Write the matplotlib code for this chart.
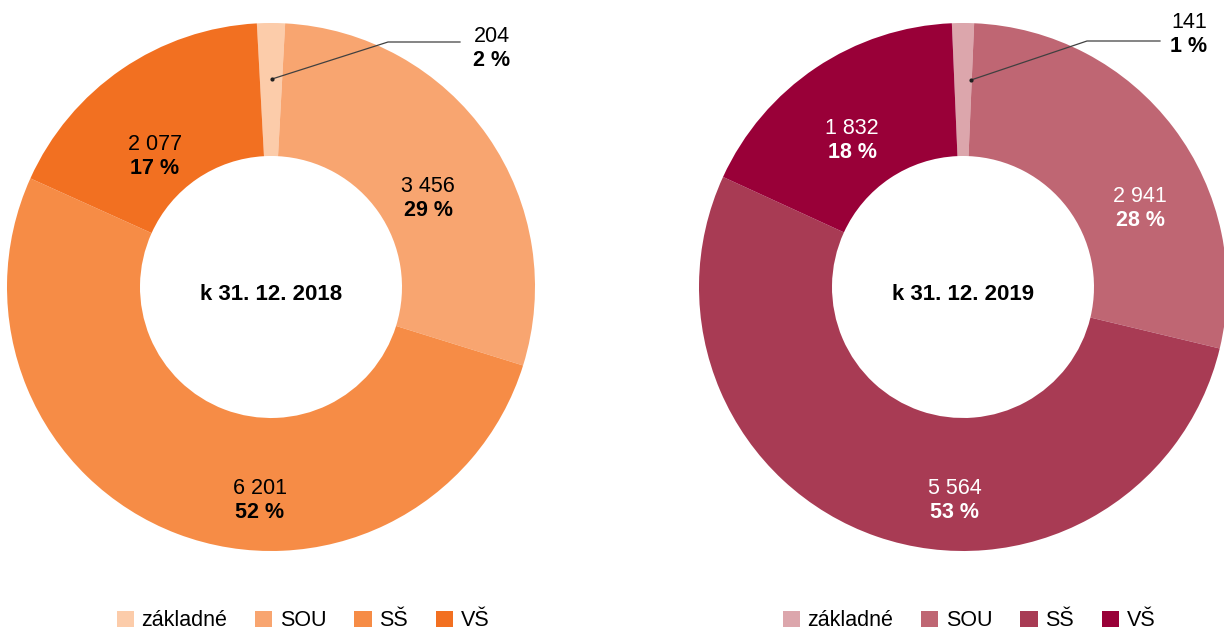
import matplotlib
matplotlib.use("Agg")
import matplotlib.pyplot as plt
from matplotlib.patches import Patch

categories = ["základné", "SOU", "SŠ", "VŠ"]
values_2018 = [204, 3456, 6201, 2077]
values_2019 = [141, 2941, 5564, 1832]
pct_2018 = ["2 %", "29 %", "52 %", "17 %"]
pct_2019 = ["1 %", "28 %", "53 %", "18 %"]
titles = ["k 31. 12. 2018", "k 31. 12. 2019"]

colors_2018 = ["#FCCCAA", "#F8A570", "#F68C46", "#F27021"]
colors_2019 = ["#DCA6AC", "#BF6673", "#A83B54", "#990038"]

plt.rcParams['font.family'] = ['Liberation Sans', 'DejaVu Sans']

W, H = 1224, 633
fig = plt.figure(figsize=(W / 100, H / 100), dpi=100)

FS = 15.5

def fmt(v):
    return f"{v:,}".replace(",", " ")

def draw(cx, values, colors, pcts, title, txtcol, label_off, lead, leadtext, legx):
    a = fig.add_axes([0, 0, 1, 1])
    cy = H - 287
    R = 264
    total = sum(values)
    start = 90 + values[0] / total * 180
    a.pie(values, colors=colors, startangle=start, counterclock=False,
          radius=R, center=(cx, cy), frame=True,
          wedgeprops=dict(width=R - 131, linewidth=0))
    a.set_xlim(0, W)
    a.set_ylim(0, H)
    a.set_aspect('auto')
    a.axis('off')
    a.text(cx, cy - 8, title, ha='center', va='center', fontsize=16, fontweight='bold')
    for i in range(1, 4):
        dx, dy = label_off[i - 1]
        a.text(cx + dx, cy - dy + 11, fmt(values[i]), ha='center', va='center',
               fontsize=FS, color=txtcol)
        a.text(cx + dx, cy - dy - 13, pcts[i], ha='center', va='center',
               fontsize=FS, fontweight='bold', color=txtcol)
    xs = [cx + p[0] for p in lead]
    ys = [H - p[1] for p in lead]
    a.plot(xs, ys, color='#404040', lw=0.9)
    a.plot([xs[0]], [ys[0]], 'o', color='#202020', ms=2)
    tx, ty = leadtext
    a.text(cx + tx, H - ty + 12, fmt(values[0]), ha='right', va='center', fontsize=FS)
    a.text(cx + tx, H - ty - 12, pcts[0], ha='right', va='center', fontsize=FS, fontweight='bold')
    handles = [Patch(facecolor=c, edgecolor='none') for c in colors]
    fig.legend(handles, categories, loc='center', bbox_to_anchor=(legx / W, 1 - 621 / H),
               ncol=4, frameon=False, fontsize=FS, handlelength=0.8, handleheight=0.8,
               handletextpad=0.35, columnspacing=1.3)

draw(271, values_2018, colors_2018, pct_2018, titles[0], 'black',
     [(157, -90), (-11, 213), (-116, -132)],
     [(1, 79), (117, 42), (189, 42)], (239, 48), 303)
draw(963, values_2019, colors_2019, pct_2019, titles[1], 'white',
     [(177, -80), (-8, 213), (-111, -147)],
     [(8, 80), (124, 41), (197, 41)], (244, 35), 969)

fig.savefig("out.png", dpi=100)
